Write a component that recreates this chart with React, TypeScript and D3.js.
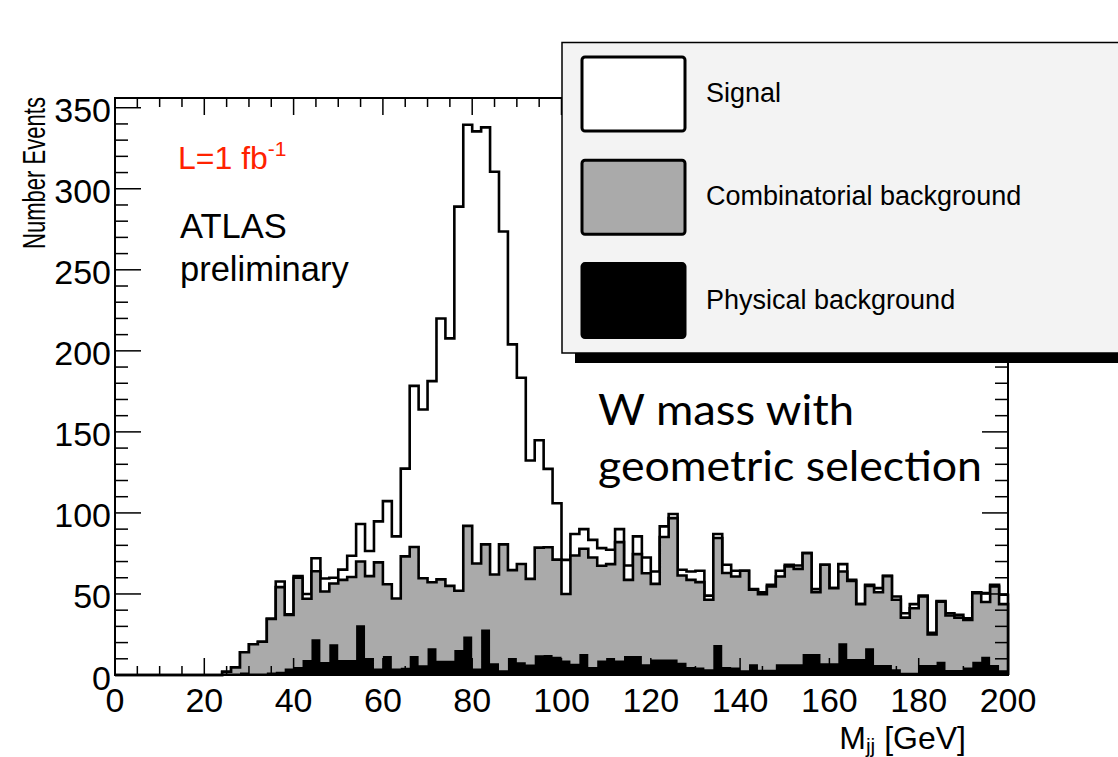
import React from 'react';
import * as d3 from 'd3';

// ---- data (2 GeV bins from 0 to 200) ----
const binWidth = 2;
const xDomain = [0, 200];
const yDomain = [0, 356];

// outer outline: signal + backgrounds
const totalValues = [
  0, 0, 0, 0, 0, 0, 0, 0, 0, 0,
  0, 0, 2, 4.7, 14, 19, 20.5, 34.6, 57.7, 37.5,
  61, 50, 72, 59.5, 60, 65, 73.6, 93.2, 76.5, 94.8,
  107.3, 85.5, 127.3, 178.4, 163.8, 181.3, 220, 207.7, 289, 339.5,
  335.4, 337.9, 310.5, 273.6, 204, 183.4, 132.3, 144.8, 127.2, 106,
  71, 87, 90, 83.4, 78.3, 77.3, 90, 67.6, 85.5, 72.5,
  63.9, 91.7, 99.3, 64.9, 63.9, 64.3, 49, 87, 68, 64.3,
  64.3, 53, 51.1, 55.6, 64.3, 68, 67.6, 75.2, 53, 68,
  53.6, 68.4, 58.7, 43.7, 55.6, 53.6, 61.2, 48.4, 38.1, 43.7,
  49, 26, 45.7, 38.1, 37.1, 35, 51.1, 50.5, 55.6, 49.5,
];

// grey: combinatorial background (stacked on physical)
const combValues = [
  0, 0, 0, 0, 0, 0, 0, 0, 0, 0,
  0, 0, 2, 4.7, 14, 19, 20.5, 34.6, 54.2, 37,
  60, 47, 64, 51.5, 56.5, 58.7, 60.5, 70, 61, 69.5,
  56, 47.2, 73.2, 79, 59.7, 57.2, 59, 55, 52, 92,
  68.8, 80.6, 62, 80.6, 64.7, 68.5, 59.3, 78.6, 78.8, 71.2,
  50, 73.7, 77.9, 72.5, 67.4, 68.4, 82, 58.7, 74.6, 62.8,
  56.2, 85.1, 96.8, 61.4, 58.7, 57.3, 46.4, 84.5, 62.9, 60.8,
  64.3, 52.6, 49.9, 54.6, 60.8, 67, 65.5, 75.2, 51.1, 68,
  53.6, 63.9, 58, 43.7, 55, 51.1, 61, 46.4, 35.4, 41.2,
  48.4, 25, 45.2, 36.7, 35.4, 34, 50.5, 45, 54.6, 43.7,
];

// black: physical background
const physValues = [
  0, 0, 0, 0, 0, 0, 0, 0, 0, 0,
  0, 0, 1, 1, 1.5, 1, 1, 1.5, 2, 4,
  5, 9.3, 22, 8, 19, 9.3, 9.3, 30.7, 10.5, 4,
  11.7, 4, 4.5, 11.7, 6, 16.5, 8.8, 8.8, 15.5, 23.7,
  4, 28, 7.2, 3, 10.5, 7.9, 6.5, 12.2, 12.3, 11.2,
  9, 7, 13, 5, 9, 10.5, 9, 11.8, 11.8, 6.7,
  9.5, 9.5, 9.5, 7.6, 5, 4.7, 3.5, 18.5, 5, 4.7,
  3, 6.6, 3.3, 3.3, 6.6, 6.6, 6.6, 13, 13, 7.2,
  7.2, 19.6, 9.8, 9.8, 16.5, 6.2, 6.2, 3.5, 1.4, 1.4,
  6.2, 6.2, 8.2, 3.1, 3.1, 4.7, 8.2, 11.3, 6.2, 3,
];

const xTickLabels = ['0', '20', '40', '60', '80', '100', '120', '140', '160', '180', '200'];
const yTickLabels = ['0', '50', '100', '150', '200', '250', '300', '350'];
const legendLabels = ['Signal', 'Combinatorial background', 'Physical background'];
const legendFills = ['#ffffff', '#aaaaaa', '#000000'];

const FONT = '"Liberation Sans", Arial, Helvetica, sans-serif';

export default function App() {
  const W = 1118;
  const H = 757;
  const x = d3.scaleLinear().domain(xDomain).range([115, 1008]);
  const y = d3.scaleLinear().domain(yDomain).range([675, 98]);

  const steps = (vals: number[]) =>
    vals.flatMap((v, i) => [
      [i * binWidth, v],
      [(i + 1) * binWidth, v],
    ]) as [number, number][];

  const area = d3
    .area<[number, number]>()
    .x((d) => x(d[0]))
    .y0(y(0))
    .y1((d) => y(d[1]));
  const line = d3
    .line<[number, number]>()
    .x((d) => x(d[0]))
    .y((d) => y(d[1]));

  const outline = (vals: number[]) =>
    line([[xDomain[0], 0], ...steps(vals), [xDomain[1], 0]]) || '';

  const xTicks = d3.range(0, 201, 5);
  const yTicks = d3.range(0, 351, 10);

  return (
    <svg
      width={W}
      height={H}
      style={{ position: 'absolute', left: 0, top: 0, background: '#fff' }}
      fontFamily={FONT}
    >
      <rect x={0} y={0} width={W} height={H} fill="#fff" />

      {/* histograms */}
      <path d={area(steps(totalValues)) || ''} fill="#fff" />
      <path d={outline(totalValues)} fill="none" stroke="#000" strokeWidth={2.6} strokeLinejoin="miter" />
      <path d={area(steps(combValues)) || ''} fill="#aaaaaa" />
      <path d={outline(combValues)} fill="none" stroke="#000" strokeWidth={2.6} strokeLinejoin="miter" />
      <path d={area(steps(physValues)) || ''} fill="#000" />

      {/* frame */}
      <rect x={x(0)} y={y(yDomain[1])} width={x(200) - x(0)} height={y(0) - y(yDomain[1])} fill="none" stroke="#000" strokeWidth={2} />

      {/* x ticks (bottom + top) */}
      {xTicks.map((t) => {
        const major = t % 20 === 0;
        const len = major ? 17 : 9;
        return (
          <g key={'xt' + t}>
            <line x1={x(t)} x2={x(t)} y1={y(0)} y2={y(0) - len} stroke="#000" strokeWidth={1.5} />
            <line x1={x(t)} x2={x(t)} y1={y(yDomain[1])} y2={y(yDomain[1]) + len} stroke="#000" strokeWidth={1.5} />
          </g>
        );
      })}
      {/* y ticks (left + right) */}
      {yTicks.map((t) => {
        const major = t % 50 === 0;
        const len = major ? 26 : 13;
        return (
          <g key={'yt' + t}>
            <line x1={x(0)} x2={x(0) + len} y1={y(t)} y2={y(t)} stroke="#000" strokeWidth={1.5} />
            <line x1={x(200)} x2={x(200) - len} y1={y(t)} y2={y(t)} stroke="#000" strokeWidth={1.5} />
          </g>
        );
      })}

      {/* tick labels */}
      {xTickLabels.map((lab) => (
        <text key={'xl' + lab} x={x(+lab)} y={712} textAnchor="middle" fontSize={34} fill="#000">
          {lab}
        </text>
      ))}
      {yTickLabels.map((lab) => (
        <text key={'yl' + lab} x={111} y={y(+lab) + 14.5} textAnchor="end" fontSize={34} fill="#000">
          {lab}
        </text>
      ))}

      {/* axis titles */}
      <text x={966} y={749} textAnchor="end" fontSize={32} fill="#000">
        M<tspan fontSize={21} dy={4}>jj</tspan>
        <tspan dy={-4}> [GeV]</tspan>
      </text>
      <text
        transform="translate(45,97) rotate(-90)"
        textAnchor="end"
        fontSize={32}
        fill="#000"
        textLength={152}
        lengthAdjust="spacingAndGlyphs"
      >
        Number Events
      </text>

      {/* annotations */}
      <text x={178} y={169} fontSize={32} fill="#ff2200">
        L=1 fb<tspan fontSize={21} dy={-13}>-1</tspan>
      </text>
      <text x={180} y={238} fontSize={34.5} fill="#000">ATLAS</text>
      <text x={180} y={281} fontSize={34.5} fill="#000">preliminary</text>
      <text x={598} y={425} fontSize={43} fontFamily="Lato, 'Open Sans', sans-serif" fill="#000" textLength={256} lengthAdjust="spacingAndGlyphs">
        W mass with
      </text>
      <text x={598} y={481} fontSize={43} fontFamily="Lato, 'Open Sans', sans-serif" fill="#000" textLength={384} lengthAdjust="spacingAndGlyphs">
        geometric selection
      </text>

      {/* legend */}
      <rect x={575} y={353} width={600} height={10} fill="#000" />
      <rect x={562} y={42.5} width={600} height={310.5} fill="#f3f3f3" stroke="#000" strokeWidth={1.5} />
      {legendLabels.map((lab, i) => {
        const top = 57 + i * 103.3;
        return (
          <g key={'lg' + i}>
            <rect x={582} y={top} width={103} height={74} rx={3} fill={legendFills[i]} stroke="#000" strokeWidth={3} />
            <text x={706} y={top + 45} fontSize={27} fill="#000">
              {lab}
            </text>
          </g>
        );
      })}
    </svg>
  );
}
